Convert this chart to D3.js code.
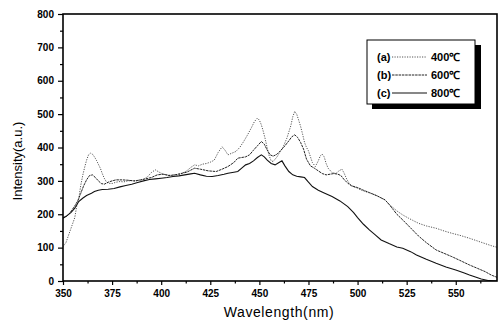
<!DOCTYPE html>
<html>
<head>
    <script src="https://d3js.org/d3.v7.min.js"></script>
    <style>
        body { margin: 0; background: #fff; }
        svg { display: block; font-family: "Liberation Sans", Arial, sans-serif; }
        .tick text { font-weight: bold; font-size: 10px; fill: #000; }
        .tick line { stroke: #000; stroke-width: 1.2px; }
        .domain { display: none; }
        .series { fill: none; }
    </style>
</head>
<body>
<div id="container"></div>
<script>
    // wavelength (nm) / intensity (a.u.)
    var wlA = [350, 351.5, 353, 354.5, 356, 357, 358, 359, 360, 361, 362, 363, 364, 365, 366, 367, 368, 369, 370, 371, 372, 373, 375, 377, 379, 381, 383, 385, 387, 389, 391, 393, 395, 397, 399, 401, 403, 405, 407, 409, 411, 413, 415, 417, 419, 421, 423, 425, 427, 429, 431, 432.5, 434, 436, 438, 440, 442, 444, 446, 447.5, 449, 450, 451, 452, 453, 454, 455, 456, 457, 458, 459, 460, 462, 464, 466, 467, 468, 469, 470, 471, 472, 473, 474, 475, 476, 477, 478.5, 480, 481, 482, 483, 484, 485, 487, 489, 490.5, 492, 493, 494.5, 496, 498, 500, 502, 504, 507, 510, 512, 514, 516, 518, 520, 523, 526, 528, 531, 535, 540, 544, 548, 552, 557, 561, 565, 568, 571];
    var intA = [103, 115, 140, 165, 190, 225, 245, 285, 315, 340, 362, 378, 383, 380, 372, 362, 350, 338, 322, 308, 298, 293, 292, 296, 298, 297, 300, 301, 299, 303, 305, 312, 325, 333, 326, 320, 318, 316, 318, 318, 324, 330, 340, 348, 345, 350, 352, 356, 362, 385, 402, 392, 378, 383, 388, 400, 418, 438, 460, 478, 488, 482, 468, 448, 425, 398, 375, 360, 358, 365, 372, 382, 400, 428, 465, 492, 508, 500, 482, 463, 440, 415, 400, 390, 372, 355, 343, 360, 375, 380, 372, 352, 338, 325, 322, 330, 335, 325, 305, 290, 282, 278, 272, 268, 262, 255, 249, 243, 230, 220, 210, 198, 188, 182, 173, 165, 158, 150, 143, 137, 128, 120, 112, 106, 101];

    var wlB = [350, 351.5, 353, 354.5, 356, 357.5, 359, 360.5, 362, 363.5, 365, 366.5, 368, 369.5, 371, 373, 375, 377, 380, 383, 386, 389, 392, 395, 398, 401, 404, 407, 410, 413, 417, 420, 424, 428, 431, 434, 437, 439, 441, 443, 445, 447, 449, 451, 452.5, 454, 455.5, 457, 459, 461, 463, 465, 466.5, 468, 469.5, 471, 472.5, 474, 476, 478, 480, 482, 484, 486, 488, 490, 491.5, 493, 495, 497, 500, 503, 506, 510, 514, 516, 518, 520, 523, 526, 528, 531, 535, 540, 544, 548, 552, 557, 561, 565, 568, 571];
    var intB = [190, 192, 200, 212, 225, 240, 262, 285, 303, 316, 318, 310, 300, 292, 290, 296, 300, 303, 303, 302, 300, 302, 306, 310, 318, 320, 316, 318, 322, 326, 338, 335, 330, 328, 335, 343, 355, 368, 370, 372, 378, 392, 405, 418, 410, 392, 378, 374, 380, 392, 405, 420, 432, 438, 430, 415, 395, 365, 345, 338, 330, 322, 318, 320, 322, 320, 316, 305, 293, 285, 280, 272, 265, 255, 243, 230, 215, 200, 183, 165, 153, 135, 115, 93, 83, 73, 62, 48, 38, 28, 18, 11];

    var wlC = [350, 352, 354, 356, 358, 360, 362, 364.5, 366, 368, 370, 373, 376, 379, 382, 385, 388, 391, 394, 397, 400, 403, 406, 409, 412, 415, 417, 420, 423, 426, 429, 432, 434, 437, 439, 441, 443, 445, 447, 449, 451, 452.5, 454, 456, 458, 460, 461.5, 463, 465, 467, 469, 471, 473, 475, 477, 480, 483, 487, 491, 495, 498, 500, 503, 506, 509, 512, 516, 520, 523, 527, 530, 535, 540, 545, 550, 554, 557, 560, 563, 567, 571];
    var intC = [188, 196, 205, 218, 238, 248, 256, 263, 268, 272, 274, 275, 277, 282, 286, 290, 295, 300, 304, 306, 308, 310, 313, 315, 318, 321, 323, 318, 314, 313, 316, 320, 323, 326, 328, 338, 348, 352, 360, 370, 378, 372, 362, 352, 348, 355, 360, 345, 328, 318, 314, 312, 310, 296, 283, 272, 264, 253, 240, 223, 205, 190, 170, 153, 138, 123, 112, 102, 98, 88, 78, 65, 53, 42, 33, 25, 18, 12, 6, 1, 0];

    var labels = ["(a)", "(b)", "(c)"];
    var temps = ["400\u2103", "600\u2103", "800\u2103"];
    var xTicks = [350, 375, 400, 425, 450, 475, 500, 525, 550];
    var yTicks = [0, 100, 200, 300, 400, 500, 600, 700, 800];

    var W = 501, H = 327;
    var margin = { left: 63, right: 497, top: 14, bottom: 281 };

    var x = d3.scaleLinear().domain([350, 571]).range([margin.left, margin.right]);
    var y = d3.scaleLinear().domain([0, 800]).range([margin.bottom, margin.top]);

    var svg = d3.select("#container").append("svg")
        .attr("width", W)
        .attr("height", H);

    svg.append("clipPath").attr("id", "clip")
        .append("rect")
        .attr("x", margin.left).attr("y", margin.top)
        .attr("width", margin.right - margin.left).attr("height", margin.bottom - margin.top);

    // minor ticks
    svg.append("g")
        .attr("transform", "translate(0," + margin.bottom + ")")
        .call(d3.axisBottom(x).tickValues(d3.range(362.5, 571, 25)).tickSize(2.5).tickFormat(""));
    svg.append("g")
        .attr("transform", "translate(" + margin.left + ",0)")
        .call(d3.axisLeft(y).tickValues(d3.range(50, 800, 100)).tickSize(3).tickFormat(""));

    // major ticks
    svg.append("g")
        .attr("transform", "translate(0," + margin.bottom + ")")
        .call(d3.axisBottom(x).tickValues(xTicks).tickSize(4).tickPadding(5));
    svg.append("g")
        .attr("transform", "translate(" + margin.left + ",0)")
        .call(d3.axisLeft(y).tickValues(yTicks).tickSize(5).tickPadding(4));

    var line = d3.line()
        .x(function(d) { return x(d[0]); })
        .y(function(d) { return y(d[1]); });

    var series = [
        { pts: d3.zip(wlA, intA), dash: "1.2,1.3", color: "#555", w: 1 },
        { pts: d3.zip(wlB, intB), dash: "2.5,0.8", color: "#222", w: 1 },
        { pts: d3.zip(wlC, intC), dash: null, color: "#111", w: 1.1 }
    ];

    svg.append("g").attr("clip-path", "url(#clip)")
        .selectAll("path")
        .data(series)
        .enter().append("path")
        .attr("class", "series")
        .attr("d", function(d) { return line(d.pts); })
        .attr("stroke", function(d) { return d.color; })
        .attr("stroke-width", function(d) { return d.w; })
        .attr("stroke-dasharray", function(d) { return d.dash; });

    // frame
    svg.append("rect")
        .attr("x", margin.left).attr("y", margin.top)
        .attr("width", margin.right - margin.left).attr("height", margin.bottom - margin.top)
        .attr("fill", "none")
        .attr("stroke", "#000")
        .attr("stroke-width", 1.6);

    // legend with drop shadow
    var lg = svg.append("g");
    lg.append("rect")
        .attr("x", 372).attr("y", 45).attr("width", 109).attr("height", 64)
        .attr("fill", "#000");
    lg.append("rect")
        .attr("x", 367).attr("y", 40).attr("width", 108).attr("height", 64)
        .attr("fill", "#fff").attr("stroke", "#000").attr("stroke-width", 1);

    var rows = lg.selectAll(".row")
        .data(series)
        .enter().append("g")
        .attr("transform", function(d, i) { return "translate(0," + (57 + i * 18) + ")"; });
    rows.append("text")
        .attr("x", 377).attr("dy", "0.35em")
        .style("font-size", "11px").style("font-weight", "bold")
        .text(function(d, i) { return labels[i]; });
    rows.append("line")
        .attr("x1", 392).attr("x2", 427)
        .attr("stroke", function(d) { return d.color; })
        .attr("stroke-width", function(d) { return d.w; })
        .attr("stroke-dasharray", function(d) { return d.dash; });
    rows.append("text")
        .attr("x", 431).attr("dy", "0.35em")
        .style("font-size", "11px").style("font-weight", "bold")
        .text(function(d, i) { return temps[i]; });

    // axis titles
    svg.append("text")
        .attr("x", (margin.left + margin.right) / 2 - 1)
        .attr("y", 317)
        .style("text-anchor", "middle")
        .style("font-size", "14px")
        .style("letter-spacing", "0.6px")
        .text("Wavelength(nm)");

    svg.append("text")
        .attr("transform", "translate(22," + 161 + ") rotate(-90)")
        .style("text-anchor", "middle")
        .style("font-size", "13px")
        .text("Intensity(a.u.)");
</script>
</body>
</html>
